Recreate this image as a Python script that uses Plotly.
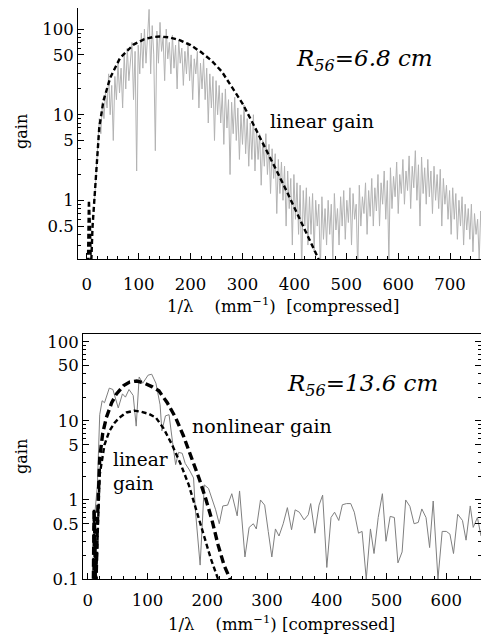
import plotly.graph_objects as go

# ---------------- data ----------------
# top panel (R56 = 6.8 cm): measured gain spectrum, x grid step 3 mm^-1
top_x = list(range(15, 775, 3))
top_gain = [
    1.0, 2.2, 4, 9, 6, 14, 9, 18, 12, 30,
    10, 22, 5, 28, 15, 40, 18, 35, 12, 50,
    20, 60, 25, 45, 70, 15, 55, 2.2, 65, 30,
    90, 35, 100, 40, 75, 170, 30, 110, 50, 3.8,
    95, 40, 120, 55, 80, 25, 100, 45, 70, 30,
    85, 35, 65, 20, 75, 40, 60, 22, 55, 30,
    70, 25, 50, 15, 45, 30, 55, 12, 40, 20,
    45, 15, 35, 8, 30, 12, 28, 5, 25, 10,
    22, 8, 18, 4.5, 20, 7, 15, 2, 14, 6,
    16, 5, 12, 3, 10, 4.5, 13, 3.5, 9, 2.5,
    8, 3, 10, 2.2, 7, 3, 6, 1.5, 5, 2.5,
    6, 2, 4.5, 1.2, 4, 1.8, 3.5, 0.7, 3, 1.2,
    2.8, 1, 2.5, 0.5, 2.2, 0.8, 1.8, 0.3, 2, 0.6,
    1.6, 0.4, 1.5, 0.15, 1.3, 0.5, 1.4, 0.3, 1.1, 0.4,
    1.2, 0.25, 1, 0.5, 0.9, 0.15, 1.1, 0.35, 0.8, 0.3,
    1.0, 0.4, 0.9, 0.2, 1.2, 0.45, 0.8, 0.3, 1.1, 0.5,
    1.3, 0.35, 1.0, 0.55, 1.4, 0.3, 1.2, 0.6, 0.9, 0.15,
    1.5, 0.5, 1.1, 0.7, 1.6, 0.4, 1.3, 0.65, 1.8, 0.5,
    1.4, 0.75, 2.0, 0.5, 1.6, 0.9, 2.2, 0.6, 1.7, 0.2,
    2.4, 0.8, 1.9, 1.1, 2.8, 0.7, 2.0, 1.2, 3.0, 0.9,
    2.2, 1.3, 3.3, 0.8, 2.5, 1.4, 3.8, 1.0, 2.6, 0.5,
    3.2, 1.2, 2.4, 0.9, 3.0, 1.1, 2.2, 0.7, 2.5, 1.0,
    2.0, 0.8, 2.3, 0.5, 1.8, 0.9, 1.5, 0.6, 1.3, 0.4,
    1.4, 0.6, 1.2, 0.35, 1.0, 0.5, 1.1, 0.3, 0.9, 0.45,
    0.8, 0.35, 0.9, 0.25, 0.7, 0.4, 0.6, 0.2, 0.75, 0.3,
    0.55, 0.25, 0.6, 0.35,
]

# top panel: linear gain theory curve
top_lin_x = [2, 4, 6, 8, 11, 14.5, 19, 24, 32, 45, 64, 90, 110, 128, 140, 160, 180,
             200, 220, 240, 260, 280, 300, 320, 340, 360, 380, 400, 420, 440, 460]
top_lin_gain = [0.15, 1.0, 0.5, 0.15, 0.49, 1.07, 2.9, 7.1, 14.5, 27, 46, 66, 76, 81, 82, 80, 74,
                65, 54, 43, 32, 21, 13.5, 7.9, 4.6, 2.6, 1.48, 0.83, 0.46, 0.25, 0.135]

# bottom panel (R56 = 13.6 cm): measured gain spectrum
bot_x = [12, 16, 20, 24, 28, 36, 42, 51, 58, 63, 69, 76, 81, 86, 92, 101, 107, 114, 121, 124,
         130, 136, 142, 147, 152, 158, 163, 170, 177, 180, 188, 195, 202, 209, 214, 220, 226,
         234, 241, 250, 254, 263, 270, 277, 282, 289, 296, 302, 308, 314, 320, 327, 334, 341,
         347, 354, 362, 369, 373, 380, 387, 393, 400, 407, 413, 420, 426, 433, 440, 446, 453,
         459, 466, 473, 479, 486, 493, 499, 506, 513, 519, 526, 532, 539, 546, 553, 559, 566,
         572, 578, 586, 593, 600, 606, 612, 619, 627, 633, 640, 645, 652, 658]
bot_gain = [0.7, 1.5, 12, 18, 17, 26, 25, 14.6, 22, 20, 25, 21, 8.6, 36, 30, 38, 39, 30, 16, 7.5,
            11.6, 12, 5.3, 2.8, 4, 3.9, 2.9, 2.4, 1.9, 0.75, 0.15, 1.55, 1.4, 1.0, 0.75, 0.5, 0.84,
            0.86, 1.2, 0.63, 1.3, 0.19, 0.45, 0.5, 0.43, 1.0, 0.86, 0.4, 0.19, 0.43, 0.35, 0.5, 0.8, 0.42,
            0.75, 0.7, 0.56, 0.65, 0.9, 0.38, 0.86, 1.15, 0.14, 0.6, 0.7, 0.55, 0.87, 0.9, 0.9, 0.7, 0.38,
            0.4, 0.1, 0.43, 0.21, 0.6, 1.2, 0.3, 0.62, 0.6, 0.16, 0.22, 1.0, 0.83, 0.5, 0.52, 0.77, 0.6,
            0.25, 0.97, 0.1, 0.4, 0.4, 0.37, 0.21, 0.66, 0.55, 0.31, 0.84, 0.45, 0.6, 0.35]

# bottom panel: nonlinear gain theory curve
bot_nl_x = [9, 10.5, 12, 13, 14, 16, 20, 25, 31, 40, 48, 60, 70, 82, 95, 108, 119, 133, 147,
            160, 174, 186, 197, 208, 218, 228, 238, 245]
bot_nl_gain = [0.05, 0.75, 0.3, 0.05, 0.1, 0.5, 3.4, 7, 11, 17, 22, 28, 31, 32, 30, 27, 24, 17, 11,
               6.5, 3.4, 1.9, 1.06, 0.55, 0.27, 0.15, 0.1, 0.07]

# bottom panel: linear gain theory curve
bot_lin_x = [9, 10.5, 12, 13, 14, 16, 20, 28, 36, 45, 53, 65, 78, 90, 102, 114, 127, 141, 155,
             169, 185, 196, 206, 218, 225]
bot_lin_gain = [0.05, 0.75, 0.3, 0.05, 0.1, 0.35, 2.1, 5, 7.4, 9.5, 11, 12.8, 13.5, 13, 12.3, 11,
                8, 5, 2.9, 1.55, 0.6, 0.33, 0.18, 0.1, 0.07]

top_xticks = [0, 100, 200, 300, 400, 500, 600, 700]
bot_xticks = [0, 100, 200, 300, 400, 500, 600]
top_yticks = [0.5, 1, 5, 10, 50, 100]
top_ytext = ["0.5", "1", "5", "10", "50", "100"]
bot_yticks = [0.1, 0.5, 1, 5, 10, 50, 100]
bot_ytext = ["0.1", "0.5", "1", "5", "10", "50", "100"]
log_minor = [m * 10 ** e for e in (-1, 0, 1, 2) for m in range(2, 10)]

# ---------------- figure ----------------
W, H = 489, 637
OFF = 8  # page body margin offset
FONT = "DejaVu Serif"


def px(x):
    return min(max((x - OFF) / W, 0), 1)


def py(y):
    return min(max(1 - (y - OFF) / H, 0), 1)


fig = go.Figure()
fig.add_trace(go.Scatter(x=top_x, y=top_gain, mode="lines",
                         line=dict(color="#b3b3b3", width=1), xaxis="x", yaxis="y"))
fig.add_trace(go.Scatter(x=top_lin_x, y=top_lin_gain, mode="lines",
                         line=dict(color="black", width=2.4, dash="5px,3px"),
                         xaxis="x", yaxis="y"))
fig.add_trace(go.Scatter(x=bot_x, y=bot_gain, mode="lines",
                         line=dict(color="#7f7f7f", width=1), xaxis="x2", yaxis="y2"))
fig.add_trace(go.Scatter(x=bot_lin_x, y=bot_lin_gain, mode="lines",
                         line=dict(color="black", width=2.4, dash="5px,3px"),
                         xaxis="x2", yaxis="y2"))
fig.add_trace(go.Scatter(x=bot_nl_x, y=bot_nl_gain, mode="lines",
                         line=dict(color="black", width=3.4, dash="8px,4px"),
                         xaxis="x2", yaxis="y2"))

axis_common = dict(showline=True, linecolor="black", linewidth=1, showgrid=False,
                   zeroline=False, ticks="inside", tickcolor="black", ticklen=6,
                   automargin=False,
                   tickfont=dict(family=FONT, size=16.5, color="black"))

fig.update_layout(
    width=W, height=H, showlegend=False,
    margin=dict(l=0, r=0, t=0, b=0),
    paper_bgcolor="white", plot_bgcolor="white",
    font=dict(family=FONT),
    xaxis=dict(domain=[px(78), px(488)], range=[-17, 773], anchor="y",
               tickvals=top_xticks, mirror=True, ticklabelstandoff=10,
               minor=dict(ticks="inside", dtick=20, tick0=0, ticklen=3, tickcolor="black"),
               **axis_common),
    yaxis=dict(domain=[py(259), 1], type="log", range=[-0.686, 2.247], anchor="x",
               tickvals=top_yticks, ticktext=top_ytext, mirror="ticks",
               minor=dict(ticks="inside", tickvals=log_minor, ticklen=3, tickcolor="black"),
               **axis_common),
    xaxis2=dict(domain=[px(83), px(481)], range=[-8, 658], anchor="y2",
                tickvals=bot_xticks, mirror=True, ticklabelstandoff=6,
                minor=dict(ticks="inside", dtick=20, tick0=0, ticklen=3, tickcolor="black"),
                **axis_common),
    yaxis2=dict(domain=[py(579), py(334)], type="log", range=[-1, 2.1], anchor="x2",
                tickvals=bot_yticks, ticktext=bot_ytext, mirror="ticks",
                minor=dict(ticks="inside", tickvals=log_minor, ticklen=3, tickcolor="black"),
                **axis_common),
)

xtitle_top = "1/λ&nbsp;&nbsp;&nbsp;&nbsp;(mm<sup>−1</sup>)&nbsp;&nbsp;[compressed]"
xtitle_bot = "1/λ&nbsp;&nbsp;&nbsp;&nbsp;(mm<sup>−1</sup>)&nbsp;[compressed]"
ann = [
    dict(x=px(283), y=py(305), text=xtitle_top, size=16.5),
    dict(x=px(281), y=py(623), text=xtitle_bot, size=16.5),
    dict(x=px(22), y=py(132), text="gain", textangle=-90, size=16),
    dict(x=px(22), y=py(457), text="gain", textangle=-90, size=16),
    dict(x=px(364), y=py(60), text="<i>R<sub>56</sub>=6.8 cm</i>", size=23),
    dict(x=px(362), y=py(385), text="<i>R<sub>56</sub>=13.6 cm</i>", size=23),
    dict(x=px(322), y=py(121), text="linear gain", size=19),
    dict(x=px(262), y=py(426), text="nonlinear gain", size=19),
    dict(x=px(111), y=py(471), text="linear<br>gain", align="left", xanchor="left", size=18.5),
]
for a in ann:
    size = a.pop("size")
    a.setdefault("xanchor", "center")
    fig.add_annotation(xref="paper", yref="paper", showarrow=False, yanchor="middle",
                       font=dict(family=FONT, color="black", size=size), **a)

fig.write_html("out.html")
